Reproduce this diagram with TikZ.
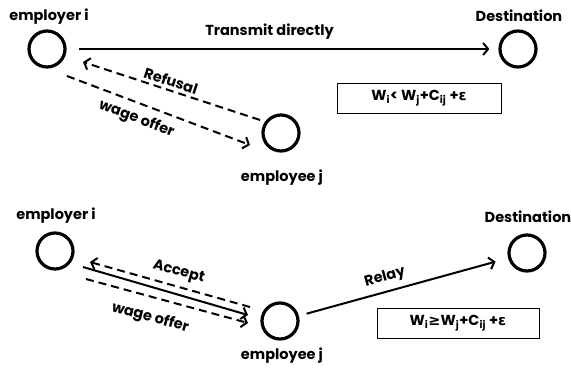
\documentclass[tikz,border=0pt]{standalone}
\usepackage{fontspec}
\setmainfont{Poppins}
\newfontfamily\symf{DejaVu Sans}
\usetikzlibrary{arrows.meta}
\begin{document}
\begin{tikzpicture}[x=1pt,y=-1pt,
  font=\bfseries\fontsize{14.5}{16}\selectfont,
  station/.style={circle, draw, line width=3.2pt, minimum size=36pt, inner sep=0pt},
  lbl/.style={inner sep=0pt},
  arr/.style={line width=2pt, -{Straight Barb[length=5pt,width=12pt,line width=2pt]}},
  darr/.style={arr, dash pattern=on 8pt off 5pt},
  cond/.style={draw, line width=1pt, minimum height=30pt, inner sep=0pt}]
\useasboundingbox (0,0) rectangle (571,370);
% ---------- top scenario ----------
\node[station] (ei1) at (47,49) {};
\node[lbl] (ei1l) at (49,17) {employer i};
\node[station] (d1) at (518,49) {};
\node[lbl] (d1l) at (519,16) {Destination};
\node[station] (ej1) at (281,133) {};
\node[lbl] (ej1l) at (282,178) {employee j};
\node[cond, minimum width=164pt] (c1) at (419,98)
  {W\textsubscript{i}< W\textsubscript{j}+C\textsubscript{ij} +{\symf ε}};
\draw[arr, shorten <=12pt, shorten >=9pt] (ei1) -- node[pos=0.47, above=9pt, lbl] {Transmit directly} (d1);
\coordinate (r1s) at (260,120);
\coordinate (r1e) at (83,62);
\coordinate (w1s) at (67,76);
\coordinate (w1e) at (250,145);
\draw[darr] (r1s) -- node[pos=0.52, sloped, above=3pt, lbl] {Refusal} (r1e);
\draw[darr] (w1s) -- node[pos=0.41, sloped, below=7pt, lbl] {wage offer} (w1e);
% ---------- bottom scenario ----------
\node[station] (ei2) at (55,251) {};
\node[lbl] (ei2l) at (56,216) {employer i};
\node[station] (d2) at (527,253) {};
\node[lbl] (d2l) at (528,217) {Destination};
\node[station] (ej2) at (280,321) {};
\node[lbl] (ej2l) at (282,356) {employee j};
\node[cond, minimum width=162pt] (c2) at (458,323.5)
  {W\textsubscript{i}{\symf ≥}W\textsubscript{j}+C\textsubscript{ij} +{\symf ε}};
\coordinate (a2s) at (250,307);
\coordinate (a2e) at (90,262);
\coordinate (s2s) at (83,267);
\coordinate (s2e) at (248,315);
\coordinate (w2s) at (86,279);
\coordinate (w2e) at (248,323);
\draw[darr] (a2s) -- node[pos=0.47, sloped, above=6pt, lbl] {Accept} (a2e);
\draw[arr] (s2s) -- (s2e);
\draw[darr] (w2s) -- node[pos=0.43, sloped, below=12pt, lbl] {wage offer} (w2e);
\draw[arr, shorten <=8pt, shorten >=13pt] (ej2) -- node[pos=0.43, sloped, above=6pt, lbl] {Relay} (d2);
\end{tikzpicture}
\end{document}
